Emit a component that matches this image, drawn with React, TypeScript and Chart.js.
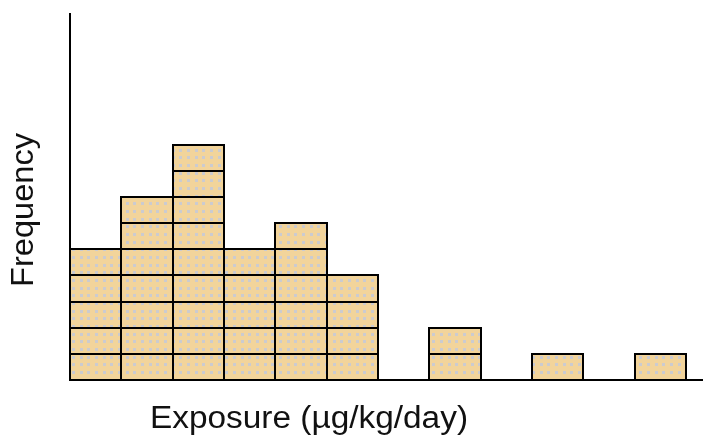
import React, { useEffect, useRef } from "react";
import { Chart, registerables } from "chart.js";

Chart.register(...registerables);

// Histogram counts per exposure bin (each unit drawn as a stacked block)
const binLabels = ["1", "2", "3", "4", "5", "6", "7", "8", "9", "10", "11", "12"];
const binCounts = [5, 7, 9, 5, 6, 4, 0, 2, 0, 1, 0, 1];
const xTitle = "Exposure (\u00b5g/kg/day)";
const yTitle = "Frequency";

function makePattern(): CanvasPattern | string {
  const tile = document.createElement("canvas");
  tile.width = 23;
  tile.height = 23;
  const c = tile.getContext("2d");
  if (!c) return "#f2d49b";
  c.fillStyle = "#f2d49b";
  c.fillRect(0, 0, 23, 23);
  c.fillStyle = "#cbcbd0";
  const offs = [3, 11, 18];
  for (const ox of offs) for (const oy of offs) c.fillRect(ox, oy, 3, 3);
  const p = c.createPattern(tile, "repeat");
  return p || "#f2d49b";
}

export default function App() {
  const ref = useRef<HTMLCanvasElement | null>(null);
  useEffect(() => {
    if (!ref.current) return;
    const pattern = makePattern();
    const maxCount = Math.max(...binCounts);
    const datasets = [];
    for (let k = 1; k <= maxCount; k++) {
      datasets.push({
        label: "level " + k,
        data: binCounts.map((c, i) => ({ x: i + 0.5, y: c >= k ? 1 : null })),
        backgroundColor: pattern,
        borderWidth: 0,
        barPercentage: 1,
        categoryPercentage: 1,
      });
    }
    const outlinePlugin = {
      id: "outlines",
      afterDatasetsDraw(chart: any) {
        const ctx = chart.ctx;
        ctx.save();
        ctx.strokeStyle = "#000";
        ctx.lineWidth = 2;
        chart.data.datasets.forEach((_: any, di: number) => {
          const meta = chart.getDatasetMeta(di);
          meta.data.forEach((el: any, i: number) => {
            const raw = chart.data.datasets[di].data[i];
            if (!raw || raw.y == null) return;
            const p = el.getProps(["x", "y", "base", "width"], true);
            const left = Math.round(p.x - p.width / 2);
            const right = Math.round(p.x + p.width / 2);
            const top = Math.round(p.y);
            const bottom = Math.round(p.base);
            ctx.strokeRect(left, top, right - left, bottom - top);
          });
        });
        ctx.restore();
      },
      afterDraw(chart: any) {
        const ctx = chart.ctx;
        ctx.save();
        ctx.fillStyle = "#111";
        ctx.font = '31px "Liberation Sans", Arial, sans-serif';
        ctx.textAlign = "center";
        ctx.textBaseline = "alphabetic";
        // x title
        let w = ctx.measureText(xTitle).width;
        ctx.save();
        ctx.translate(309, 428);
        ctx.scale(318 / w, 1);
        ctx.fillText(xTitle, 0, 0);
        ctx.restore();
        // y title
        w = ctx.measureText(yTitle).width;
        ctx.save();
        ctx.translate(33, 210);
        ctx.rotate(-Math.PI / 2);
        ctx.scale(154 / w, 1);
        ctx.fillText(yTitle, 0, 0);
        ctx.restore();
        ctx.restore();
      },
    };
    const chart = new Chart(ref.current, {
      type: "bar",
      data: { labels: binLabels, datasets: datasets as any },
      options: {
        animation: false,
        responsive: false,
        devicePixelRatio: 1,
        layout: { padding: { left: 70, top: 14, right: 0, bottom: 56 } },
        plugins: { legend: { display: false }, tooltip: { enabled: false } },
        scales: {
          x: {
            type: "linear",
            stacked: true,
            offset: false,
            min: 0,
            max: 12.33,
            ticks: { display: false },
            grid: { display: false, drawTicks: false, offset: false },
            border: { display: true, color: "#000", width: 2 },
          },
          y: {
            stacked: true,
            min: 0,
            max: 14,
            ticks: { display: false },
            grid: { display: false, drawTicks: false },
            border: { display: true, color: "#000", width: 2 },
          },
        },
      },
      plugins: [outlinePlugin],
    });
    return () => chart.destroy();
  }, []);
  return (
    <div style={{ position: "fixed", left: 0, top: 0, width: 703, height: 436, background: "#fff" }}>
      <canvas ref={ref} width={703} height={436} />
    </div>
  );
}
